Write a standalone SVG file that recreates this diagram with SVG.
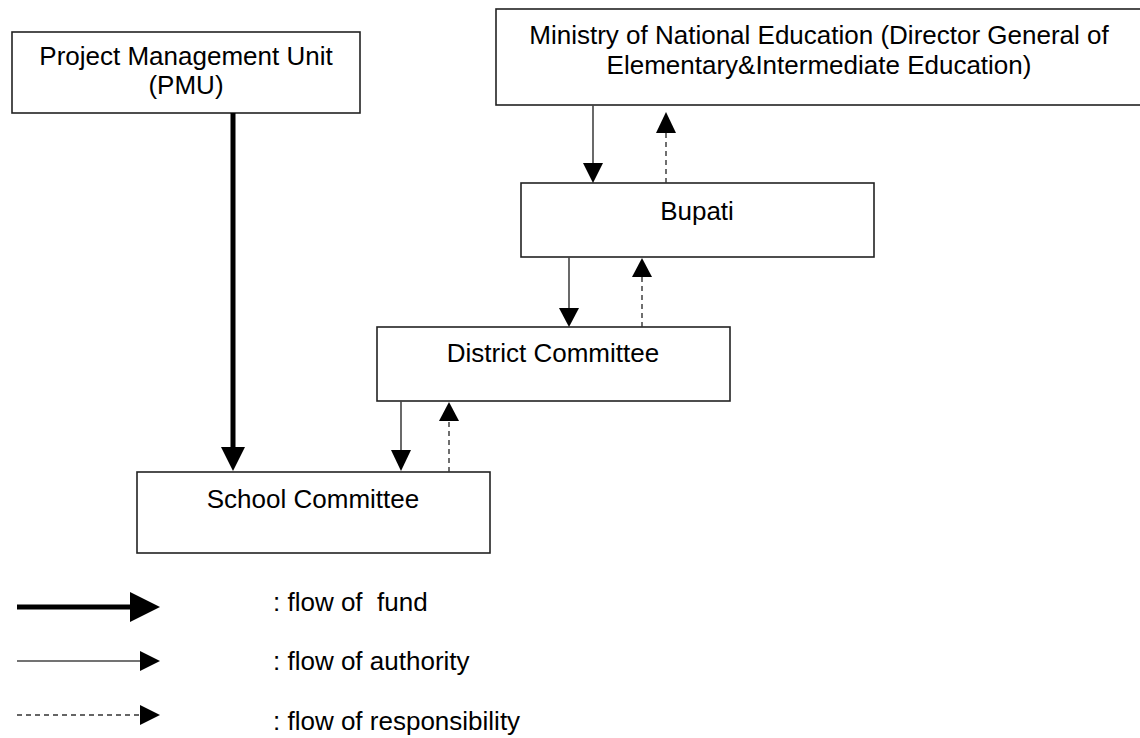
<svg xmlns="http://www.w3.org/2000/svg" width="1140" height="738" viewBox="0 0 1140 738">
<style>
.box{fill:#fff;stroke:#222;stroke-width:1.6}
.t{font-family:"Liberation Sans",Arial,sans-serif;font-size:26px;fill:#000;white-space:pre}
.c{text-anchor:middle}
.fund{stroke:#000;stroke-width:5;fill:none}
.auth{stroke:#444;stroke-width:1.6;fill:none}
.resp{stroke:#333;stroke-width:1.4;fill:none;stroke-dasharray:5 4}
.head{fill:#000;stroke:none}
</style>
<rect width="1140" height="738" fill="#fff"/>
<g id="pmu">
<rect class="box" x="12" y="32" width="348" height="81"/>
<text class="t c" x="186" y="65">Project Management Unit</text>
<text class="t c" x="186" y="94">(PMU)</text>
</g>
<g id="ministry">
<rect class="box" x="496" y="9" width="646" height="96"/>
<text class="t c" x="819" y="44">Ministry of National Education (Director General of</text>
<text class="t c" x="819" y="74">Elementary&amp;Intermediate Education)</text>
</g>
<g id="bupati">
<rect class="box" x="521" y="183" width="353" height="74"/>
<text class="t c" x="697" y="220">Bupati</text>
</g>
<g id="district">
<rect class="box" x="377" y="327" width="353" height="74"/>
<text class="t c" x="553" y="362">District Committee</text>
</g>
<g id="school">
<rect class="box" x="137" y="472" width="353" height="81"/>
<text class="t c" x="313" y="508">School Committee</text>
</g>
<g id="connectors">
<line class="fund" x1="233" y1="113" x2="233" y2="449"/>
<polygon class="head" points="221,447 245,447 233,471"/>
<line class="auth" x1="593" y1="105" x2="593" y2="165"/>
<polygon class="head" points="583,163 603,163 593,183"/>
<line class="resp" x1="666" y1="183" x2="666" y2="131"/>
<polygon class="head" points="656,133 676,133 666,112"/>
<line class="auth" x1="569" y1="257" x2="569" y2="310"/>
<polygon class="head" points="559,308 579,308 569,327"/>
<line class="resp" x1="642" y1="327" x2="642" y2="275"/>
<polygon class="head" points="632,277 652,277 642,258"/>
<line class="auth" x1="401" y1="401" x2="401" y2="452"/>
<polygon class="head" points="391,450 411,450 401,471"/>
<line class="resp" x1="449" y1="472" x2="449" y2="419"/>
<polygon class="head" points="439,421 459,421 449,402"/>
</g>
<g id="legend">
<line class="fund" x1="17" y1="607" x2="132" y2="607"/>
<polygon class="head" points="130,592 130,622 160,607"/>
<text class="t" x="273" y="611">: flow of  fund</text>
<line class="auth" x1="17" y1="661" x2="142" y2="661"/>
<polygon class="head" points="140,651 140,671 160,661"/>
<text class="t" x="273" y="670">: flow of authority</text>
<line class="resp" x1="17" y1="715" x2="142" y2="715"/>
<polygon class="head" points="140,705 140,725 160,715"/>
<text class="t" x="273" y="730">: flow of responsibility</text>
</g>
</svg>
